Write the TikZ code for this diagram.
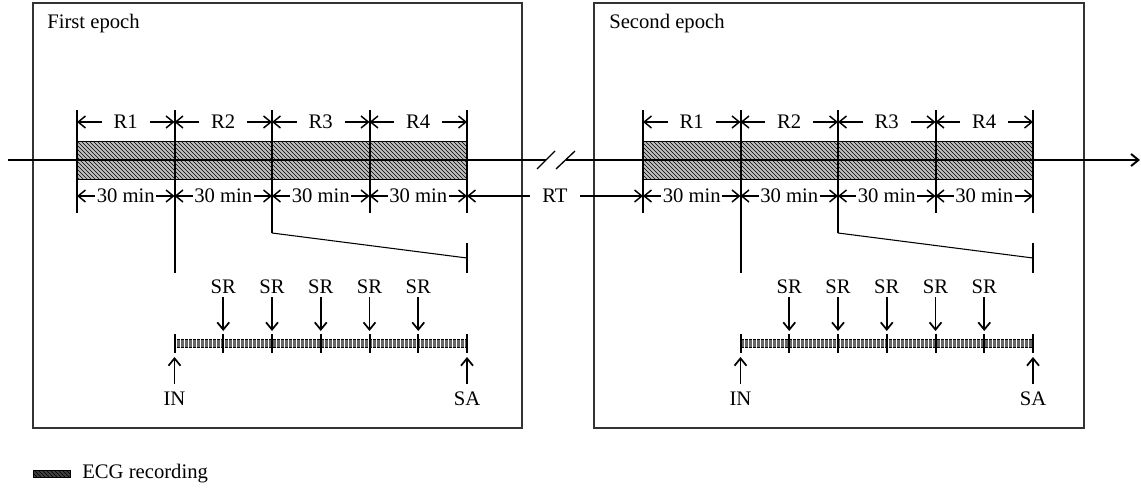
\documentclass[tikz,border=0pt]{standalone}
\usepackage{fontspec}
\setmainfont{Liberation Serif}
\usetikzlibrary{arrows.meta,patterns}
\begin{document}
\begin{tikzpicture}[x=0.75pt,y=-0.75pt,
  font=\fontsize{15.5}{18}\selectfont,
  thickl/.style={line width=1.5pt},
  thinl/.style={line width=0.8pt},
  boxl/.style={draw=black!80, line width=0.8pt},
  tip/.style={-{Straight Barb[length=5.5pt,width=9pt]}},
  dimline/.style={line width=1.1pt,{Straight Barb[length=5.5pt,width=9pt]}-{Straight Barb[length=5.5pt,width=9pt]}},
  ecg/.style={draw=black, line width=0.6pt, fill=gray!50, postaction={pattern=north west lines, pattern color=black}},
  scalebar/.style={draw=black, line width=0.6pt, fill=black!60, postaction={pattern=vertical lines, pattern color=white}},
  lbl/.style={inner sep=1pt}
]
\useasboundingbox (0,0) rectangle (1141,496);

% epoch boxes
\draw[boxl] (33,3) rectangle (522,428);
\draw[boxl] (594,3) rectangle (1084,428);
\node[anchor=base west, inner sep=0pt] (t1) at (47,28) {First epoch};
\node[anchor=base west, inner sep=0pt] (t2) at (609,28) {Second epoch};

\foreach \o/\nm in {0/a,566/b}{
  % hatched ECG bar
  \fill[ecg] (77+\o,141) rectangle (467+\o,179);
  % dividers
  \coordinate (\nm0) at (77+\o,110);
  \coordinate (\nm1) at (174.5+\o,110);
  \coordinate (\nm2) at (272+\o,110);
  \coordinate (\nm3) at (369.5+\o,110);
  \coordinate (\nm4) at (467+\o,110);
  \coordinate (\nm0b) at (77+\o,213);
  \coordinate (\nm1b) at (174.5+\o,273);
  \coordinate (\nm2b) at (272+\o,233);
  \coordinate (\nm3b) at (369.5+\o,213);
  \coordinate (\nm4b) at (467+\o,213);
  \coordinate (\nm5a) at (467+\o,243);
  \coordinate (\nm5b) at (467+\o,273);
  \coordinate (\nm5m) at (467+\o,258);
  \draw[thickl] (\nm0) -- (\nm0b);
  \draw[thickl] (\nm1) -- (\nm1b);
  \draw[thickl] (\nm2) -- (\nm2b);
  \draw[thickl] (\nm3) -- (\nm3b);
  \draw[thickl] (\nm4) -- (\nm4b);
  \draw[thickl] (\nm5a) -- (\nm5b);
  \draw[thinl] (\nm2b) -- (\nm5m);
  % R labels
  \foreach \i/\j/\r in {0/1/R1,1/2/R2,2/3/R3,3/4/R4}{
    \draw[dimline] ([yshift=-12*0.75pt]\nm\i) -- node[fill=white, inner xsep=9pt, inner ysep=1pt] (\nm r\i) {\r} ([yshift=-12*0.75pt]\nm\j);
    \draw[dimline] ([yshift=-86*0.75pt]\nm\i) -- node[fill=white, inner xsep=1pt, inner ysep=1pt] (\nm m\i) {30 min} ([yshift=-86*0.75pt]\nm\j);
  }
  % scale bar
  \fill[scalebar] (174.5+\o,339) rectangle (467+\o,347);
  \foreach \k in {0,...,6}{
    \coordinate (\nm s\k t) at (174.5+\o+48.75*\k,334);
    \coordinate (\nm s\k b) at (174.5+\o+48.75*\k,353);
    \draw[thickl] (\nm s\k t) -- (\nm s\k b);
  }
  \foreach \k in {1,...,5}{
    \node[lbl] (\nm sr\k) at (174.5+\o+48.75*\k,287) {SR};
    \coordinate (\nm sa\k) at (174.5+\o+48.75*\k,297);
    \coordinate (\nm se\k) at (174.5+\o+48.75*\k,331);
    \draw[line width=1.3pt, tip] (\nm sa\k) -- (\nm se\k);
  }
  \node[lbl] (\nm in) at (174.5+\o,399) {IN};
  \node[lbl] (\nm sa) at (467+\o,399) {SA};
  \coordinate (\nm ia) at (174.5+\o,384);
  \coordinate (\nm ie) at (174.5+\o,357);
  \coordinate (\nm aa) at (467+\o,384);
  \coordinate (\nm ae) at (467+\o,357);
  \draw[line width=1.3pt, tip] (\nm ia) -- (\nm ie);
  \draw[line width=1.3pt, tip] (\nm aa) -- (\nm ae);
}

% main timeline
\coordinate (tl0) at (8,160);
\coordinate (tl1) at (546,160);
\coordinate (tl2) at (566,160);
\coordinate (tl3) at (1140,160);
\draw[thickl] (tl0) -- (tl1);
\draw[thickl, tip] (tl2) -- (tl3);
\coordinate (s1a) at (537,169); \coordinate (s1b) at (555,151);
\coordinate (s2a) at (556,169); \coordinate (s2b) at (575,151);
\draw[line width=1pt] (s1a) -- (s1b);
\draw[line width=1pt] (s2a) -- (s2b);

% RT
\coordinate (rt0) at (467,196);
\coordinate (rt1) at (643,196);
\draw[dimline] (rt0) -- node[fill=white, inner xsep=9pt, inner ysep=1pt] (rt) {RT} (rt1);

% legend
\fill[ecg, fill=black!75] (33,470) rectangle (70,477);
\node[anchor=west, inner sep=0pt] (leg) at (82,474) {ECG recording};
\end{tikzpicture}
\end{document}
